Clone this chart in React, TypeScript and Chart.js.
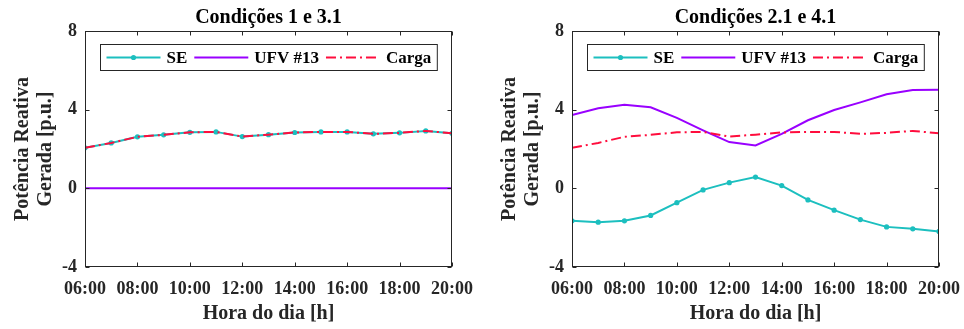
import React, { useEffect, useRef } from 'react';
import { Chart, registerables } from 'chart.js';

Chart.register(...registerables);

// ---- data ----
const hours = [6, 7, 8, 9, 10, 11, 12, 13, 14, 15, 16, 17, 18, 19, 20];
const yTicks = [-4, 0, 4, 8];

const cargaValues = [2.06, 2.31, 2.62, 2.72, 2.85, 2.87, 2.63, 2.73, 2.84, 2.87, 2.87, 2.77, 2.82, 2.92, 2.80];

// Condições 1 e 3.1
const seCond1 = [2.06, 2.31, 2.62, 2.72, 2.85, 2.87, 2.63, 2.73, 2.84, 2.87, 2.87, 2.77, 2.82, 2.92, 2.80];
const ufvCond1 = [0, 0, 0, 0, 0, 0, 0, 0, 0, 0, 0, 0, 0, 0, 0];

// Condições 2.1 e 4.1
const seCond2 = [-1.65, -1.72, -1.65, -1.38, -0.73, -0.08, 0.29, 0.57, 0.14, -0.59, -1.11, -1.59, -1.96, -2.06, -2.19];
const ufvCond2 = [3.73, 4.07, 4.25, 4.12, 3.58, 2.95, 2.35, 2.18, 2.77, 3.46, 3.98, 4.37, 4.78, 5.0, 5.01];

const seriesLabels = ['SE', 'UFV #13', 'Carga'];
const panelTitles = ['Condições 1 e 3.1', 'Condições 2.1 e 4.1'];
const xTitle = 'Hora do dia [h]';
const yTitle = ['Potência Reativa', 'Gerada [p.u.]'];

// ---- styles ----
const FONT = '"Liberation Serif", "Times New Roman", serif';
const SE_COLOR = '#1CBFBF';
const UFV_COLOR = '#9900FF';
const CARGA_COLOR = '#FF0D3D';
const AXIS_COLOR = '#262626';

const fmtHour = (v: number) => String(v).padStart(2, '0') + ':00';

const axesBoxPlugin = {
  id: 'axesBox',
  afterDraw(chart: any) {
    const { ctx, chartArea: a, scales } = chart;
    const L = Math.round(a.left) + 0.5;
    const R = Math.round(a.right) - 0.5;
    const T = Math.round(a.top) + 0.5;
    const B = Math.round(a.bottom) - 0.5;
    const tl = 4;
    ctx.save();
    ctx.strokeStyle = AXIS_COLOR;
    ctx.lineWidth = 1;
    ctx.setLineDash([]);
    ctx.strokeRect(L, T, R - L, B - T);
    ctx.beginPath();
    scales.x.ticks.forEach((t: any) => {
      const px = Math.round(scales.x.getPixelForValue(t.value)) + 0.5;
      ctx.moveTo(px, B);
      ctx.lineTo(px, B - tl);
      ctx.moveTo(px, T);
      ctx.lineTo(px, T + tl);
    });
    scales.y.ticks.forEach((t: any) => {
      const py = Math.round(scales.y.getPixelForValue(t.value)) + 0.5;
      ctx.moveTo(L, py);
      ctx.lineTo(L + tl, py);
      ctx.moveTo(R, py);
      ctx.lineTo(R - tl, py);
    });
    ctx.stroke();
    ctx.restore();
  },
};

const boxLegendPlugin = {
  id: 'boxLegend',
  afterDraw(chart: any) {
    const { ctx, chartArea: a } = chart;
    ctx.save();
    ctx.font = `bold 17px ${FONT}`;
    const pad = 6;
    const lineLen = 54;
    const gap1 = 6;
    const gap2 = 7;
    const h = 26;
    const items = chart.data.datasets.map((ds: any) => ({ ds, w: ctx.measureText(ds.label).width }));
    const total =
      pad * 2 +
      items.reduce((s: number, it: any) => s + lineLen + gap1 + it.w, 0) +
      gap2 * (items.length - 1);
    const x0 = Math.round((a.left + a.right) / 2 - total / 2) + 0.5;
    const y0 = Math.round(a.top + 12.5) + 0.5;
    ctx.fillStyle = '#ffffff';
    ctx.fillRect(x0, y0, total, h);
    ctx.strokeStyle = AXIS_COLOR;
    ctx.lineWidth = 1;
    ctx.strokeRect(x0, y0, total, h);
    let x = x0 + pad;
    const cy = y0 + h / 2;
    items.forEach((it: any) => {
      const ds = it.ds;
      ctx.beginPath();
      ctx.setLineDash(ds.borderDash || []);
      ctx.strokeStyle = ds.borderColor;
      ctx.lineWidth = ds.borderWidth;
      ctx.moveTo(x, cy);
      ctx.lineTo(x + lineLen, cy);
      ctx.stroke();
      ctx.setLineDash([]);
      if (ds.pointRadius > 0) {
        ctx.beginPath();
        ctx.fillStyle = ds.borderColor;
        ctx.arc(x + lineLen / 2, cy, ds.pointRadius, 0, Math.PI * 2);
        ctx.fill();
      }
      ctx.fillStyle = '#000000';
      ctx.textBaseline = 'middle';
      ctx.textAlign = 'left';
      ctx.fillText(ds.label, x + lineLen + gap1, cy + 1);
      x += lineLen + gap1 + it.w + gap2;
    });
    ctx.restore();
  },
};

function Panel({ title, se, ufv, left }: { title: string; se: number[]; ufv: number[]; left: number }) {
  const ref = useRef<HTMLCanvasElement>(null);
  useEffect(() => {
    const pts = (arr: number[]) => hours.map((h, i) => ({ x: h, y: arr[i] }));
    const chart = new Chart(ref.current as HTMLCanvasElement, {
      type: 'line',
      data: {
        datasets: [
          {
            label: seriesLabels[0],
            data: pts(se),
            borderColor: SE_COLOR,
            backgroundColor: SE_COLOR,
            pointBackgroundColor: SE_COLOR,
            pointBorderWidth: 0,
            borderWidth: 2,
            pointRadius: 2.6,
            tension: 0,
            order: 2,
          },
          {
            label: seriesLabels[1],
            data: pts(ufv),
            borderColor: UFV_COLOR,
            backgroundColor: UFV_COLOR,
            borderWidth: 2,
            pointRadius: 0,
            tension: 0,
            order: 1,
          },
          {
            label: seriesLabels[2],
            data: pts(cargaValues),
            borderColor: CARGA_COLOR,
            backgroundColor: CARGA_COLOR,
            borderWidth: 2,
            borderDash: [10, 4, 2, 4],
            pointRadius: 0,
            tension: 0,
            order: 0,
          },
        ] as any,
      },
      options: {
        responsive: false,
        animation: false,
        events: [],
        layout: { padding: { left: 0, right: 25, top: 0, bottom: 0 } },
        plugins: {
          legend: { display: false },
          tooltip: { enabled: false },
          title: {
            display: true,
            text: title,
            fullSize: false,
            color: '#000000',
            font: { family: FONT, size: 20, weight: 'bold', lineHeight: 1.2 },
            padding: { top: 6, bottom: 1 },
          },
        },
        scales: {
          x: {
            type: 'linear',
            min: 6,
            max: 20,
            grid: { display: false, drawTicks: false },
            border: { display: false },
            ticks: {
              stepSize: 2,
              autoSkip: false,
              maxRotation: 0,
              padding: 12,
              color: AXIS_COLOR,
              font: { family: FONT, size: 18, weight: 'bold' },
              callback: (v: any) => fmtHour(Number(v)),
            },
            title: {
              display: true,
              text: xTitle,
              color: AXIS_COLOR,
              font: { family: FONT, size: 20, weight: 'bold', lineHeight: 1.2 },
              padding: { top: 0, bottom: 3 },
            },
            afterFit: (s: any) => {
              s.height = 62;
              s.paddingLeft = 0;
              s.paddingRight = 0;
            },
          },
          y: {
            type: 'linear',
            min: yTicks[0],
            max: yTicks[yTicks.length - 1],
            grid: { display: false, drawTicks: false },
            border: { display: false },
            ticks: {
              stepSize: 4,
              padding: 8,
              color: AXIS_COLOR,
              font: { family: FONT, size: 18, weight: 'bold' },
            },
            title: {
              display: true,
              text: yTitle,
              color: AXIS_COLOR,
              font: { family: FONT, size: 20, weight: 'bold', lineHeight: 1.15 },
              padding: { top: 11, bottom: 0 },
            },
            afterFit: (s: any) => {
              s.width = 85;
            },
          },
        },
      } as any,
      plugins: [axesBoxPlugin, boxLegendPlugin],
    });
    return () => chart.destroy();
  }, [title, se, ufv]);
  return (
    <canvas
      ref={ref}
      width={477}
      height={329}
      style={{ position: 'absolute', left, top: 0, width: 477, height: 329, display: 'block' }}
    />
  );
}

export default function App() {
  return (
    <div style={{ position: 'absolute', left: 0, top: 0, width: 964, height: 329, background: '#ffffff', overflow: 'hidden' }}>
      <Panel title={panelTitles[0]} se={seCond1} ufv={ufvCond1} left={0} />
      <Panel title={panelTitles[1]} se={seCond2} ufv={ufvCond2} left={487} />
    </div>
  );
}
